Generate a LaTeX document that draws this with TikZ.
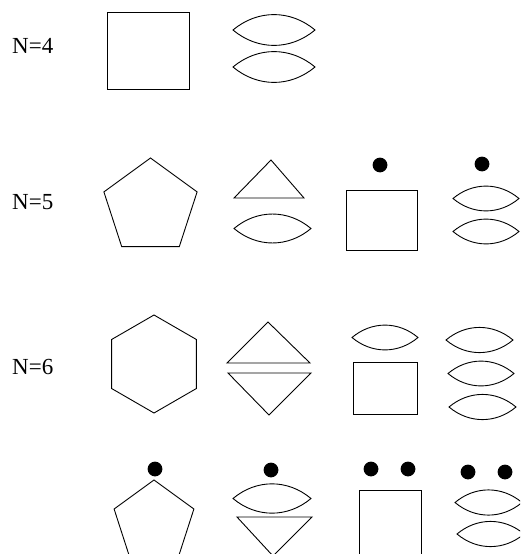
\documentclass[tikz,border=0pt]{standalone}
\usepackage{fontspec}
\setmainfont{Liberation Serif}
\tikzset{
  shp/.style={draw=black, line width=0.9pt, line join=miter},
  dotmark/.style={fill=black},
  lbl/.style={anchor=base west, inner sep=0pt, font=\fontsize{23}{27}\selectfont}
}
\newcommand{\lensat}[3]{% center x, center y, width
  \draw[shp] (#1-#3/2,#2) to[bend left=40] (#1+#3/2,#2) to[bend left=40] cycle;}
\newcommand{\dotat}[2]{\fill[dotmark] (#1,#2) circle[radius=7.4];}
\begin{document}
\begin{tikzpicture}[x=1pt,y=-1pt]
\useasboundingbox (0,0) rectangle (520,554);
\clip (0,0) rectangle (520,554);
% labels
\node[lbl] (n4) at (12,53) {N=4};
\node[lbl] (n5) at (12,209) {N=5};
\node[lbl] (n6) at (12,374) {N=6};
% ---------- Row 1
\draw[shp] (107,12) rectangle (189,89);
\lensat{274}{30}{82}
\lensat{274}{67}{82}
% ---------- Row 2
\draw[shp] (150.5,158) -- (197.1,191.9) -- (179.3,246.6) -- (121.7,246.6) -- (103.9,191.9) -- cycle;
\draw[shp] (271,160) -- (304,198) -- (234,198) -- cycle;
\lensat{272.5}{228.5}{77}
\dotat{380}{165}
\draw[shp] (346,190) rectangle (417,250);
\dotat{482}{164}
\lensat{486}{198.5}{66}
\lensat{486}{231.5}{66}
% ---------- Row 3
\draw[shp] (154,315) -- (196.4,339.5) -- (196.4,388.5) -- (154,413) -- (111.6,388.5) -- (111.6,339.5) -- cycle;
\draw[shp] (268,322) -- (310,363) -- (227,363) -- cycle;
\draw[shp] (228,373) -- (311,373) -- (269,415) -- cycle;
\lensat{385}{337.5}{66}
\draw[shp] (353,362) rectangle (417,414);
\lensat{479.5}{340}{67}
\lensat{481}{373.5}{66}
\lensat{482.5}{407}{67}
% ---------- Row 4
\dotat{155}{469}
\draw[shp] (154,480) -- (193.9,509) -- (178.7,556) -- (129.3,556) -- (114.1,509) -- cycle;
\dotat{271}{470}
\lensat{272}{498.5}{78}
\draw[shp] (237,517) -- (312,517) -- (273,556) -- cycle;
\dotat{371}{469}
\dotat{408}{469}
\draw[shp] (359,570) -- (359,490) -- (421,490) -- (421,570);
\dotat{468}{472}
\dotat{505}{472}
\lensat{488.5}{502.5}{67}
\lensat{490.5}{534}{67}
\end{tikzpicture}
\end{document}
